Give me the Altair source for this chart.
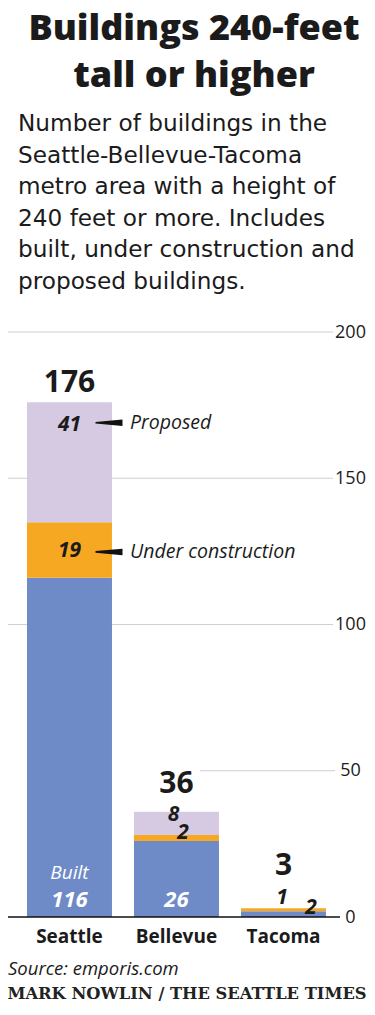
import altair as alt
import pandas as pd

# ---------------- data ----------------
cities = ["Seattle", "Bellevue", "Tacoma"]
statuses = ["Built", "Under construction", "Proposed"]
built = [116, 26, 2]
under_construction = [19, 2, 1]
proposed = [41, 8, 0]
grid_ticks = [100, 150, 200]
axis_ticks = [0, 50, 100, 150, 200]

title_lines = ["Buildings 240-feet", "tall or higher"]
subtitle_lines = [
    "Number of buildings in the",
    "Seattle-Bellevue-Tacoma",
    "metro area with a height of",
    "240 feet or more. Includes",
    "built, under construction and",
    "proposed buildings.",
]
source_text = "Source: emporis.com"
credit_text = "MARK NOWLIN / THE SEATTLE TIMES"

# ---------------- style ----------------
W, H = 325, 585
FONT = "Open Sans"
INK = "#1b1b1b"
status_colors = ["#6E8BC7", "#F7A823", "#D5CAE1"]

rows = []
for i, c in enumerate(cities):
    base = 0
    for j, (s, vals) in enumerate(zip(statuses, [built, under_construction, proposed])):
        v = vals[i]
        rows.append(dict(city=c, status=s, order=j, count=v,
                         y0=base, y1=base + v, mid=base + v / 2))
        base += v
df = pd.DataFrame(rows)
totals = pd.DataFrame({"city": cities,
                       "total": [b + u + p for b, u, p in zip(built, under_construction, proposed)]})
dummy = pd.DataFrame({"_": [0]})

xscale = alt.Scale(domain=cities, paddingInner=0.2056, paddingOuter=0.1215, align=0.73)
yscale = alt.Scale(domain=[0, 200], nice=False, zero=True)

AX_X = alt.Axis(title=None, orient="bottom", domain=False, ticks=False, grid=False,
                labelAngle=0, labelFont=FONT, labelFontSize=19,
                labelFontWeight="bold", labelColor=INK, labelPadding=10)
AX_Y = alt.Axis(title=None, orient="right", values=axis_ticks, grid=False,
                domain=False, ticks=False, labelAlign="center", labelPadding=17,
                labelFont=FONT, labelFontSize=18, labelColor=INK)

X = alt.X("city:N", sort=cities, scale=xscale, axis=AX_X)


def Y(field):
    return alt.Y(f"{field}:Q", scale=yscale, axis=AX_Y)


# gridlines
grid = alt.Chart(pd.DataFrame({"v": grid_ticks})).mark_rule(color="#cfcfcf", strokeWidth=1).encode(
    y=Y("v"), x=alt.value(0), x2=alt.value(W))
grid50 = alt.Chart(pd.DataFrame({"v": [50]})).mark_rule(color="#cfcfcf", strokeWidth=1).encode(
    y=Y("v"), x=alt.value(192), x2=alt.value(W + 2))

bars = alt.Chart(df[df["count"] > 0]).mark_bar().encode(
    x=X,
    y=Y("y0"),
    y2="y1:Q",
    color=alt.Color("status:N", scale=alt.Scale(domain=statuses, range=status_colors), legend=None),
)

zero = alt.Chart(pd.DataFrame({"v": [0]})).mark_rule(color="#111111", strokeWidth=1.5).encode(
    y=Y("v"), x=alt.value(0), x2=alt.value(W + 7))


def seg_label(city, status, anchor, dx, dy, color=INK, size=21, text_field="count:Q",
              weight="bold", style="italic"):
    return alt.Chart(df).transform_filter(
        f"datum.city == '{city}' && datum.status == '{status}'"
    ).mark_text(dx=dx, dy=dy, color=color, font=FONT, fontSize=size, fontWeight=weight,
                fontStyle=style, baseline="middle", align="center").encode(
        x=X, y=Y(anchor), text=text_field)


labels = [
    seg_label("Seattle", "Proposed", "y1", 0, 23),
    seg_label("Seattle", "Under construction", "mid", 0, 1.5),
    seg_label("Seattle", "Built", "y0", 0, -17, color="white", size=22),
    seg_label("Bellevue", "Proposed", "mid", -3, -8),
    seg_label("Bellevue", "Under construction", "mid", 6.5, -5),
    seg_label("Bellevue", "Built", "y0", 0, -17, color="white", size=22),
    seg_label("Tacoma", "Under construction", "mid", -1.5, -12),
    seg_label("Tacoma", "Built", "mid", 27.5, -6),
]

built_word = alt.Chart(df).transform_filter(
    "datum.city == 'Seattle' && datum.status == 'Built'"
).mark_text(text="Built", dy=-44, color="white", font=FONT, fontSize=19, fontWeight=500,
            fontStyle="italic", baseline="middle").encode(x=X, y=Y("y0"))

# callouts
wedge = "M -1 -0.06 L 1 -0.24 L 1 0.24 L -1 0.06 Z"


def callout(status, anchor, dy, word):
    sub = alt.Chart(df).transform_filter(f"datum.city == 'Seattle' && datum.status == '{status}'")
    arrow = sub.mark_point(shape=wedge, size=27 * 27, filled=True, color="#111111", opacity=1,
                           xOffset=39.5, yOffset=dy).encode(x=X, y=Y(anchor))
    txt = sub.mark_text(text=word, dx=60.5, dy=dy, align="left", baseline="middle",
                        font=FONT, fontSize=19.5, fontStyle="italic", fontWeight=500,
                        color=INK).encode(x=X, y=Y(anchor))
    return [arrow, txt]


callouts = callout("Proposed", "y1", 20.5, "Proposed") + \
    callout("Under construction", "mid", 2, "Under construction")


def total_label(city, dy):
    return alt.Chart(totals).transform_filter(f"datum.city == '{city}'").mark_text(
        dy=dy, font=FONT, fontSize=30, fontWeight="bold", color=INK, baseline="alphabetic",
        align="center").encode(x=X, y=Y("total"), text="total:Q")


total_marks = [total_label("Seattle", -10), total_label("Bellevue", -19), total_label("Tacoma", -33)]

# header / footer text (plot coordinates: plot top-left is page (8, 332))
title = alt.Chart(dummy).mark_text(
    text=title_lines, font=FONT, fontSize=36, fontWeight=800, color=INK, align="center",
    baseline="alphabetic", lineHeight=47).encode(x=alt.value(186), y=alt.value(-292))
subtitle = alt.Chart(dummy).mark_text(
    text=subtitle_lines, font="DejaVu Sans", fontSize=23.2, fontWeight="normal", color=INK,
    align="left", baseline="alphabetic", lineHeight=31.6).encode(x=alt.value(10), y=alt.value(-201))
source = alt.Chart(dummy).mark_text(
    text=source_text, font=FONT, fontSize=18.5, fontStyle="italic", color=INK, align="left",
    baseline="alphabetic").encode(x=alt.value(0), y=alt.value(643))
credit = alt.Chart(dummy).mark_text(
    text=credit_text, font="DejaVu Serif", fontSize=16.3, fontWeight="bold", color="#222222",
    align="center", baseline="alphabetic").encode(x=alt.value(179), y=alt.value(667))

chart = alt.layer(
    grid, grid50, bars, zero, *labels, built_word, *callouts, *total_marks,
    title, subtitle, source, credit,
).properties(
    width=W, height=H,
    autosize=alt.AutoSizeParams(type="none"),
    padding={"left": 0, "top": 324, "right": 33, "bottom": 86},
).configure_view(stroke=None)

chart.save("out.html", embed_options={"renderer": "svg", "actions": False})
